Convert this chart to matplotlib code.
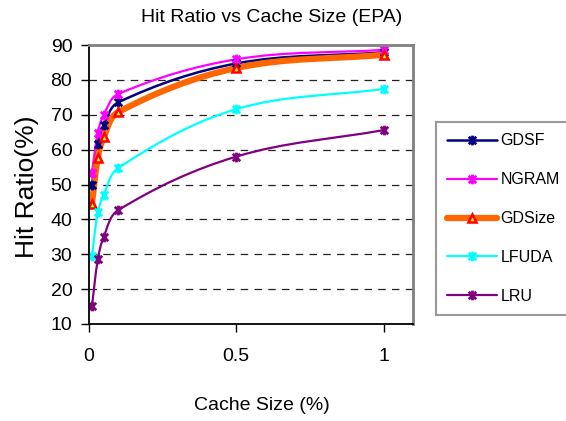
import numpy as np
import matplotlib
matplotlib.use('Agg')
import matplotlib.pyplot as plt
from matplotlib.path import Path
from matplotlib.patches import PathPatch
from matplotlib.lines import Line2D

plt.rcParams['font.family'] = ['Liberation Sans', 'DejaVu Sans']

# Dados
cache_size = [0.01, 0.03, 0.05, 0.1, 0.5, 1.0]
gdsf = [50.0, 61.7, 67.0, 73.6, 84.7, 87.9]
ngram = [53.4, 64.9, 70.0, 76.0, 85.9, 88.6]
gdsize = [44.5, 57.7, 63.6, 70.8, 83.4, 87.2]
lfuda = [29.5, 42.0, 47.0, 54.8, 71.6, 77.4]
lru = [15.2, 28.5, 35.0, 42.7, 58.0, 65.6]
series_names = ['GDSF', 'NGRAM', 'GDSize', 'LFUDA', 'LRU']
y_ticks = [10, 20, 30, 40, 50, 60, 70, 80, 90]
x_ticks = [0, 0.5, 1]

# marcador estrela do Excel (X + barra vertical)
star = Path([(-1, -1), (1, 1), (-1, 1), (1, -1), (0, -1.3), (0, 1.3)],
            [Path.MOVETO, Path.LINETO, Path.MOVETO, Path.LINETO, Path.MOVETO, Path.LINETO])


def smooth_path(ax, x, y, s=0.35):
    # curva suavizada (Bezier) passando pelos pontos, calculada em coordenadas de tela
    p = ax.transData.transform(np.column_stack([x, y]))
    n = len(p)
    tang = []
    for i in range(n):
        d = p[min(i + 1, n - 1)] - p[max(i - 1, 0)]
        tang.append(d / np.hypot(*d))
    verts = [p[0]]
    codes = [Path.MOVETO]
    for i in range(n - 1):
        L = np.hypot(*(p[i + 1] - p[i]))
        c1 = p[i] + tang[i] * L * s
        c2 = p[i + 1] - tang[i + 1] * L * s
        verts += [c1, c2, p[i + 1]]
        codes += [Path.CURVE4] * 3
    verts = ax.transData.inverted().transform(np.array(verts))
    return Path(verts, codes)


estilos = [
    dict(color='#000080', lw=1.8, marker=star, ms=7, mfc='#000080', mec='#000080', mew=2),
    dict(color='#FF00FF', lw=1.6, marker=star, ms=7, mfc='#FF00FF', mec='#FF00FF', mew=2),
    dict(color='#FF6600', lw=4.5, marker='^', ms=6, mfc='#FFFF00', mec='#FF0000', mew=1.8),
    dict(color='#00FFFF', lw=1.6, marker=star, ms=7, mfc='#00FFFF', mec='#00FFFF', mew=2),
    dict(color='#800080', lw=1.6, marker=star, ms=7, mfc='#800080', mec='#800080', mew=2),
]
dados = [gdsf, ngram, gdsize, lfuda, lru]

fig = plt.figure(figsize=(5.66, 4.21), dpi=100)
ax = fig.add_axes([89 / 566, 1 - 324 / 421, 324 / 566, 279 / 421])
ax.set_xlim(0, 1.1)
ax.set_ylim(10, 90)

handles = []
for nome, y, st in zip(series_names, dados, estilos):
    ax.add_patch(PathPatch(smooth_path(ax, cache_size, y), fill=False,
                           edgecolor=st['color'], lw=st['lw'], capstyle='round'))
    ax.plot(cache_size, y, ls='none', marker=st['marker'], ms=st['ms'],
            mfc=st['mfc'], mec=st['mec'], mew=st['mew'])
    handles.append(Line2D([], [], color=st['color'], lw=st['lw'], marker=st['marker'],
                          ms=st['ms'], mfc=st['mfc'], mec=st['mec'], mew=st['mew'],
                          solid_capstyle='round', label=nome))

ax.set_xticks(x_ticks)
ax.set_xticklabels(['0', '0.5', '1'])
ax.set_yticks(y_ticks)
ax.tick_params(axis='both', direction='out', length=6, width=1, labelsize=14)
ax.tick_params(axis='x', pad=11)
ax.tick_params(axis='y', pad=6)

for yy in y_ticks[1:-1]:
    ax.axhline(yy, color='#222222', lw=0.9, ls=(0, (6, 5)), zorder=0)

ax.spines['top'].set_color('#808080')
ax.spines['right'].set_color('#808080')
ax.spines['top'].set_linewidth(2)
ax.spines['right'].set_linewidth(2)
ax.spines['left'].set_linewidth(1.3)
ax.spines['bottom'].set_linewidth(1.3)

fig.text(272 / 566, 1 - 18 / 421, 'Hit Ratio vs Cache Size (EPA)', ha='center', va='center', fontsize=14)
fig.text(262 / 566, 1 - 405 / 421, 'Cache Size (%)', ha='center', va='center', fontsize=14)
fig.text(27 / 566, 1 - 187 / 421, 'Hit Ratio(%)', ha='center', va='center', fontsize=19, rotation=90)

leg = fig.legend(handles=handles, loc='upper left', bbox_to_anchor=(436 / 566, 1 - 122 / 421),
                 fontsize=11.5, frameon=True, fancybox=False, shadow=False,
                 handlelength=3.1, handletextpad=0.25, labelspacing=1.5,
                 borderpad=0.7, borderaxespad=0)
leg.get_frame().set_edgecolor('#808080')
leg.get_frame().set_linewidth(1.5)

fig.savefig('out.png', dpi=100)
